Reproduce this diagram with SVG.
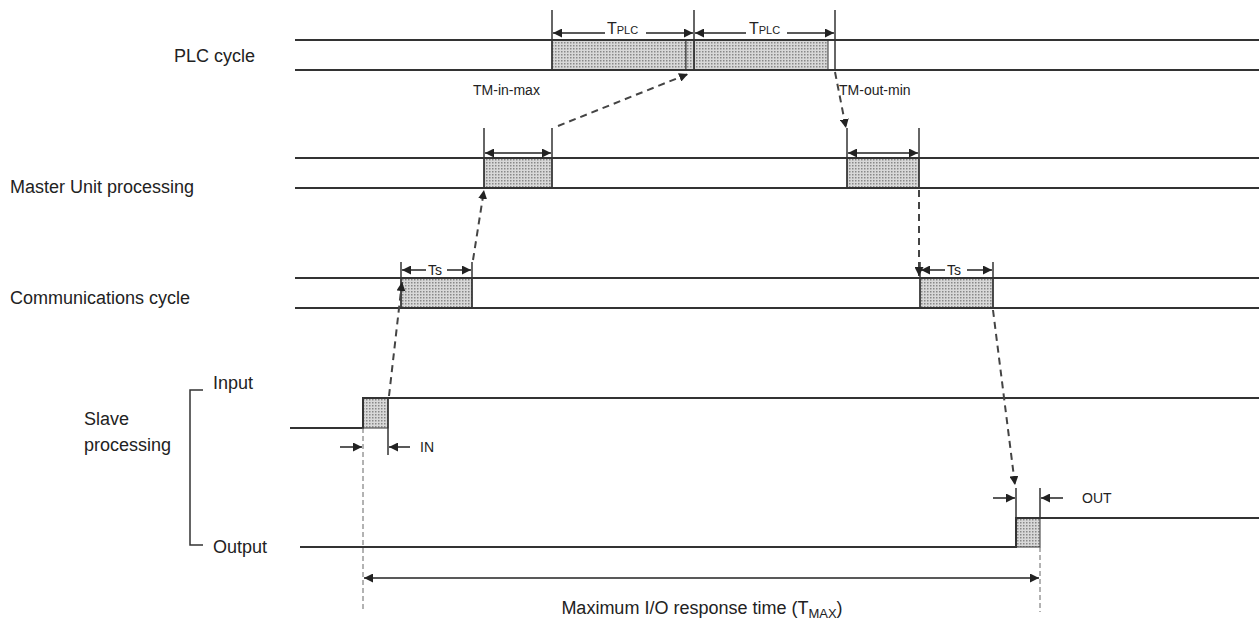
<svg xmlns="http://www.w3.org/2000/svg" width="1259" height="623" viewBox="0 0 1259 623">
<defs>
<pattern id="dots" width="3" height="3" patternUnits="userSpaceOnUse"><rect width="3" height="3" fill="#d8d8d8"/><rect width="1.5" height="1.5" fill="#888"/></pattern>
<marker id="ah" viewBox="0 0 10 10" refX="10" refY="5" markerWidth="9" markerHeight="9" markerUnits="userSpaceOnUse" orient="auto-start-reverse"><path d="M0,0L10,5L0,10z" fill="#222"/></marker>
</defs>
<style>
.l{stroke:#333;stroke-width:2;fill:none}
.t{stroke:#333;stroke-width:1.5;fill:none}
.b{fill:url(#dots);stroke:#333;stroke-width:1}
.a{stroke:#222;stroke-width:1.5;fill:none;marker-end:url(#ah)}
.aa{stroke:#222;stroke-width:1.5;fill:none;marker-end:url(#ah);marker-start:url(#ah)}
.d{stroke:#444;stroke-width:2;stroke-dasharray:7,5;fill:none;marker-end:url(#ah)}
.v{stroke:#666;stroke-width:1;stroke-dasharray:5,3;fill:none}
text{font-family:"Liberation Sans",Arial,sans-serif;fill:#222}
.lb{font-size:18px}
.sm{font-size:14px}
</style>
<g id="plc">
<text class="lb" x="255" y="62" text-anchor="end">PLC cycle</text>
<rect class="b" x="552" y="40" width="134" height="30"/><rect class="b" x="694" y="40" width="134" height="30"/><rect class="b" x="686" y="40" width="8" height="30"/>
<line class="l" x1="295" y1="40" x2="1259" y2="40"/><line class="l" x1="295" y1="70" x2="1259" y2="70"/>
<line class="t" x1="552" y1="10" x2="552" y2="70"/><line class="t" x1="694" y1="10" x2="694" y2="70"/><line class="t" x1="835" y1="10" x2="835" y2="70"/>
<line class="a" x1="605" y1="33" x2="553" y2="33"/><line class="a" x1="646" y1="33" x2="693" y2="33"/>
<line class="a" x1="746" y1="33" x2="695" y2="33"/><line class="a" x1="787" y1="33" x2="834" y2="33"/>
<text x="607" y="34" font-size="16">T<tspan font-size="11">PLC</tspan></text>
<text x="749" y="34" font-size="16">T<tspan font-size="11">PLC</tspan></text>
</g>
<g id="master">
<text class="lb" x="10" y="193">Master Unit processing</text>
<rect class="b" x="484" y="158" width="68" height="30"/><rect class="b" x="847" y="158" width="72" height="30"/>
<line class="l" x1="295" y1="158" x2="1259" y2="158"/><line class="l" x1="295" y1="188" x2="1259" y2="188"/>
<line class="t" x1="484" y1="128" x2="484" y2="188"/><line class="t" x1="552" y1="128" x2="552" y2="188"/>
<line class="t" x1="847" y1="128" x2="847" y2="188"/><line class="t" x1="919" y1="128" x2="919" y2="188"/>
<line class="aa" x1="485" y1="153" x2="551" y2="153"/><line class="aa" x1="848" y1="153" x2="918" y2="153"/>
<text class="sm" x="473" y="95">TM-in-max</text><text class="sm" x="839" y="95">TM-out-min</text>
</g>
<g id="comm">
<text class="lb" x="10" y="304">Communications cycle</text>
<rect class="b" x="401" y="278" width="71" height="30"/><rect class="b" x="920" y="278" width="73" height="30"/>
<line class="l" x1="295" y1="278" x2="1259" y2="278"/><line class="l" x1="295" y1="308" x2="1259" y2="308"/>
<line class="t" x1="401" y1="262" x2="401" y2="308"/><line class="t" x1="472" y1="262" x2="472" y2="308"/>
<line class="t" x1="920" y1="262" x2="920" y2="308"/><line class="t" x1="993" y1="262" x2="993" y2="308"/>
<line class="a" x1="426" y1="270" x2="402" y2="270"/><line class="a" x1="447" y1="270" x2="471" y2="270"/>
<line class="a" x1="945" y1="270" x2="921" y2="270"/><line class="a" x1="967" y1="270" x2="992" y2="270"/>
<text class="sm" x="428" y="275">Ts</text><text class="sm" x="947" y="275">Ts</text>
</g>
<g id="slave">
<text class="lb" x="84" y="425">Slave</text><text class="lb" x="84" y="451">processing</text>
<path class="t" d="M203,390H190V545H203"/>
<text class="lb" x="213" y="389">Input</text><text class="lb" x="213" y="553">Output</text>
<rect class="b" x="363" y="398" width="25" height="30"/><rect class="b" x="1016" y="518" width="24" height="29"/>
<path class="l" d="M290,428H363V398H1259"/><line class="t" x1="388" y1="398" x2="388" y2="455"/>
<path class="l" d="M300,547H1016V518H1259"/><line class="t" x1="1016" y1="488" x2="1016" y2="518"/><line class="t" x1="1040" y1="488" x2="1040" y2="518"/>
<line class="a" x1="340" y1="447" x2="362" y2="447"/><line class="a" x1="410" y1="447" x2="389" y2="447"/>
<text class="sm" x="420" y="452">IN</text>
<line class="a" x1="993" y1="498" x2="1015" y2="498"/><line class="a" x1="1063" y1="498" x2="1041" y2="498"/>
<text class="sm" x="1082" y="503">OUT</text>
<line class="v" x1="363" y1="428" x2="363" y2="612"/><line class="v" x1="1040" y1="547" x2="1040" y2="612"/>
<line class="aa" x1="364" y1="578" x2="1039" y2="578"/>
<text class="lb" x="702" y="614" text-anchor="middle">Maximum I/O response time (T<tspan font-size="13" dy="4">MAX</tspan><tspan dy="-4">)</tspan></text>
</g>
<g id="connectors">
<line class="d" x1="389" y1="396" x2="402" y2="282"/>
<line class="d" x1="473" y1="260" x2="484" y2="190"/>
<line class="d" x1="558" y1="126" x2="688" y2="74"/>
<line class="d" x1="835" y1="72" x2="846" y2="128"/>
<line class="d" x1="919" y1="190" x2="919" y2="276"/>
<line class="d" x1="993" y1="310" x2="1015" y2="485"/>
</g>
</svg>
